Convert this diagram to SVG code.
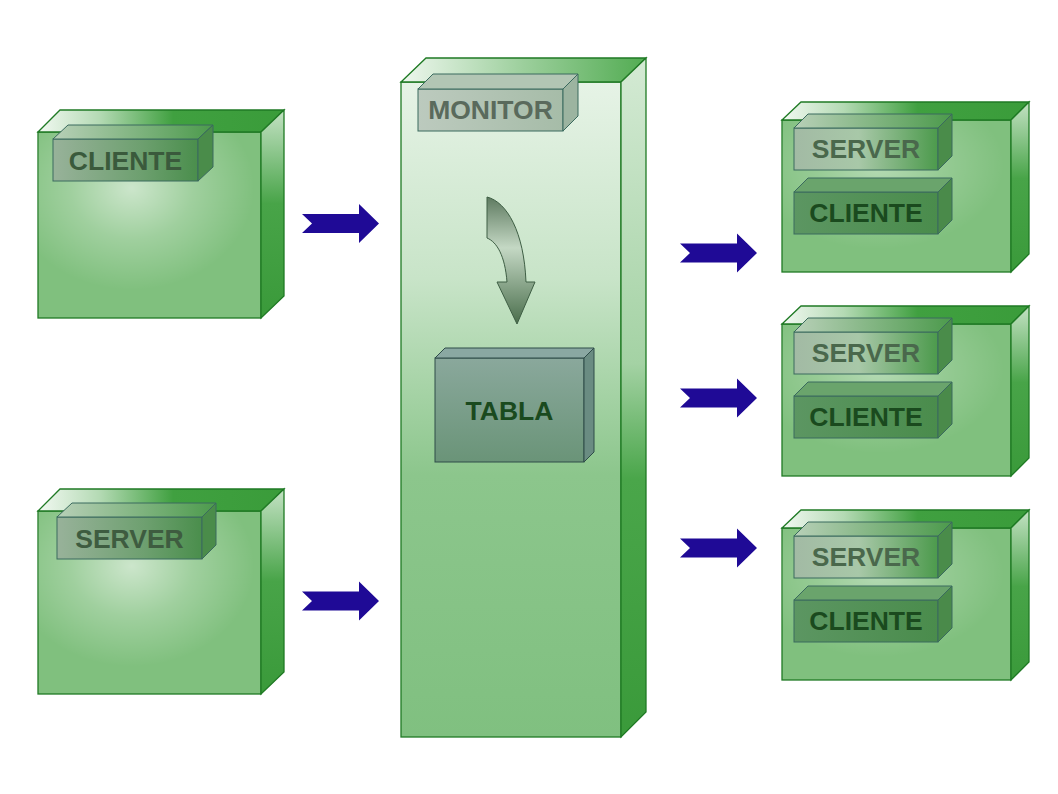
<svg xmlns="http://www.w3.org/2000/svg" xmlns:xlink="http://www.w3.org/1999/xlink" width="1058" height="794" viewBox="0 0 1058 794">
<style>
.bx{stroke:#1f7a24;stroke-width:1.3}
.lb{stroke:#3a6a5e;stroke-width:1}
.t{font-family:"Liberation Sans",Arial,sans-serif;font-weight:bold;font-size:26.5px;text-anchor:middle}
.arr{fill:#1f0a96}
</style>
<defs>
<linearGradient id="gTop" x1="0" y1="0" x2="1" y2="0">
<stop offset="0" stop-color="#f2f9f2"/><stop offset="0.25" stop-color="#b4dab4"/><stop offset="0.55" stop-color="#40a040"/><stop offset="1" stop-color="#3a9c3a"/>
</linearGradient>
<linearGradient id="gRight" x1="0" y1="0" x2="0" y2="1">
<stop offset="0" stop-color="#c4e2c4"/><stop offset="0.45" stop-color="#48a448"/><stop offset="1" stop-color="#3a9a3a"/>
</linearGradient>
<radialGradient id="gGlow" cx="0.42" cy="0.3" r="0.55">
<stop offset="0" stop-color="#ffffff" stop-opacity="0.6"/><stop offset="0.5" stop-color="#ffffff" stop-opacity="0.25"/><stop offset="1" stop-color="#ffffff" stop-opacity="0"/>
</radialGradient>
<linearGradient id="gMonFront" x1="0" y1="0" x2="0" y2="1">
<stop offset="0" stop-color="#e6f3e6"/><stop offset="0.3" stop-color="#c8e4c8"/><stop offset="0.6" stop-color="#8cc68c"/><stop offset="1" stop-color="#80c080"/>
</linearGradient>
<linearGradient id="gMonRight" x1="0" y1="0" x2="0" y2="1">
<stop offset="0" stop-color="#d4ead4"/><stop offset="0.45" stop-color="#a4d2a4"/><stop offset="0.62" stop-color="#4aa64a"/><stop offset="1" stop-color="#3a9a3a"/>
</linearGradient>
<linearGradient id="gMonTop" x1="0" y1="0" x2="1" y2="0">
<stop offset="0" stop-color="#eef7ee"/><stop offset="0.5" stop-color="#9ccf9c"/><stop offset="1" stop-color="#52ac52"/>
</linearGradient>
<linearGradient id="gLabDark" x1="0" y1="0" x2="1" y2="0">
<stop offset="0" stop-color="#98b29a"/><stop offset="0.6" stop-color="#6ea070"/><stop offset="1" stop-color="#4a8e4c"/>
</linearGradient>
<linearGradient id="gLabLight" x1="0" y1="0" x2="1" y2="0">
<stop offset="0" stop-color="#a2baa4"/><stop offset="0.45" stop-color="#a8c8a8"/><stop offset="1" stop-color="#4c9a4c"/>
</linearGradient>
<linearGradient id="gLabGreen" x1="0" y1="0" x2="1" y2="0">
<stop offset="0" stop-color="#5c9662"/><stop offset="1" stop-color="#4a8c4c"/>
</linearGradient>
<linearGradient id="gLabTop" x1="0" y1="0" x2="1" y2="0">
<stop offset="0" stop-color="#b8d0b8"/><stop offset="1" stop-color="#4c9a4c"/>
</linearGradient>
<linearGradient id="gMonLab" x1="0" y1="0" x2="1" y2="0">
<stop offset="0" stop-color="#bccabe"/><stop offset="1" stop-color="#a6bca8"/>
</linearGradient>
<linearGradient id="gTabla" x1="0" y1="0" x2="0" y2="1">
<stop offset="0" stop-color="#8aa89c"/><stop offset="1" stop-color="#6a9478"/>
</linearGradient>
<linearGradient id="gCurve" x1="0" y1="0" x2="0" y2="1">
<stop offset="0" stop-color="#5e7a60"/><stop offset="0.4" stop-color="#c4d8c4"/><stop offset="1" stop-color="#4a6e4c"/>
</linearGradient>
<path id="arrow" d="M0,-9.5 L57,-9.5 L57,-19.5 L77,0 L57,19.5 L57,9.5 L0,9.5 L10,0 Z"/>
</defs>
<rect width="1058" height="794" fill="#ffffff"/>

<g id="cliente-left">
<rect class="bx" x="38" y="132" width="223" height="186" fill="#80c07e"/>
<rect x="38" y="132" width="223" height="186" fill="url(#gGlow)"/>
<polygon class="bx" points="38,132 60,110 284,110 261,132" fill="url(#gTop)"/>
<polygon class="bx" points="261,132 284,110 284,296 261,318" fill="url(#gRight)"/>
<g id="label-cliente-left">
<rect class="lb" x="53" y="139" width="145" height="42" fill="url(#gLabDark)"/>
<polygon class="lb" points="53,139 68,125 213,125 198,139" fill="url(#gLabTop)"/>
<polygon class="lb" points="198,139 213,125 213,167 198,181" fill="#4a8c4a"/>
<text class="t" x="125.5" y="170" fill="#3a5a3c">CLIENTE</text>
</g>
</g>

<g id="server-left">
<rect class="bx" x="38" y="511" width="223" height="183" fill="#80c07e"/>
<rect x="38" y="511" width="223" height="183" fill="url(#gGlow)"/>
<polygon class="bx" points="38,511 60,489 284,489 261,511" fill="url(#gTop)"/>
<polygon class="bx" points="261,511 284,489 284,672 261,694" fill="url(#gRight)"/>
<g id="label-server-left">
<rect class="lb" x="57" y="517" width="145" height="42" fill="url(#gLabDark)"/>
<polygon class="lb" points="57,517 72,503 216,503 202,517" fill="url(#gLabTop)"/>
<polygon class="lb" points="202,517 216,503 216,545 202,559" fill="#4a8c4a"/>
<text class="t" x="129.5" y="548" fill="#3e5c40">SERVER</text>
</g>
</g>

<g id="monitor">
<rect class="bx" x="401" y="82" width="220" height="655" fill="url(#gMonFront)"/>
<polygon class="bx" points="401,82 426,58 646,58 621,82" fill="url(#gMonTop)"/>
<polygon class="bx" points="621,82 646,58 646,712 621,737" fill="url(#gMonRight)"/>
<g id="label-monitor">
<rect class="lb" x="418" y="89" width="145" height="42" fill="url(#gMonLab)"/>
<polygon class="lb" points="418,89 433,74 578,74 563,89" fill="#b2c6b4"/>
<polygon class="lb" points="563,89 578,74 578,116 563,131" fill="#9cb4a0"/>
<text class="t" x="490.5" y="119" fill="#5a6a5c">MONITOR</text>
</g>
<path id="curved-arrow" d="M487,197 C507,202 524,232 526,282 L535,282 L517,324 L497,282 L507,282 C505,256 497,242 487,238 Z" fill="url(#gCurve)" stroke="#3e5e44" stroke-width="1"/>
<g id="tabla">
<rect x="435" y="358" width="149" height="104" fill="url(#gTabla)" stroke="#2e4c48" stroke-width="1"/>
<polygon points="435,358 445,348 594,348 584,358" fill="#8aa8a2" stroke="#2e4c48" stroke-width="1"/>
<polygon points="584,358 594,348 594,452 584,462" fill="#6a8c82" stroke="#2e4c48" stroke-width="1"/>
<text class="t" x="509.5" y="420" fill="#1a4a1e">TABLA</text>
</g>
</g>

<g id="node-right-1">
<rect class="bx" x="782" y="120" width="229" height="152" fill="#80c07e"/>
<rect x="782" y="120" width="229" height="152" fill="url(#gGlow)" opacity="0.7"/>
<polygon class="bx" points="782,120 801,102 1029,102 1011,120" fill="url(#gTop)"/>
<polygon class="bx" points="1011,120 1029,102 1029,254 1011,272" fill="url(#gRight)"/>
<rect class="lb" x="794" y="128" width="144" height="42" fill="url(#gLabLight)"/>
<polygon class="lb" points="794,128 808,114 952,114 938,128" fill="url(#gLabTop)"/>
<polygon class="lb" points="938,128 952,114 952,156 938,170" fill="#4a8c4a"/>
<text class="t" x="866" y="158" fill="#4a684c">SERVER</text>
<rect class="lb" x="794" y="192" width="144" height="42" fill="url(#gLabGreen)"/>
<polygon class="lb" points="794,192 808,178 952,178 938,192" fill="#6aa46c"/>
<polygon class="lb" points="938,192 952,178 952,220 938,234" fill="#4a8a4a"/>
<text class="t" x="866" y="222" fill="#1a4a1e">CLIENTE</text>
</g>

<g id="node-right-2" transform="translate(0,204)">
<rect class="bx" x="782" y="120" width="229" height="152" fill="#80c07e"/>
<rect x="782" y="120" width="229" height="152" fill="url(#gGlow)" opacity="0.7"/>
<polygon class="bx" points="782,120 801,102 1029,102 1011,120" fill="url(#gTop)"/>
<polygon class="bx" points="1011,120 1029,102 1029,254 1011,272" fill="url(#gRight)"/>
<rect class="lb" x="794" y="128" width="144" height="42" fill="url(#gLabLight)"/>
<polygon class="lb" points="794,128 808,114 952,114 938,128" fill="url(#gLabTop)"/>
<polygon class="lb" points="938,128 952,114 952,156 938,170" fill="#4a8c4a"/>
<text class="t" x="866" y="158" fill="#4a684c">SERVER</text>
<rect class="lb" x="794" y="192" width="144" height="42" fill="url(#gLabGreen)"/>
<polygon class="lb" points="794,192 808,178 952,178 938,192" fill="#6aa46c"/>
<polygon class="lb" points="938,192 952,178 952,220 938,234" fill="#4a8a4a"/>
<text class="t" x="866" y="222" fill="#1a4a1e">CLIENTE</text>
</g>

<g id="node-right-3" transform="translate(0,408)">
<rect class="bx" x="782" y="120" width="229" height="152" fill="#80c07e"/>
<rect x="782" y="120" width="229" height="152" fill="url(#gGlow)" opacity="0.7"/>
<polygon class="bx" points="782,120 801,102 1029,102 1011,120" fill="url(#gTop)"/>
<polygon class="bx" points="1011,120 1029,102 1029,254 1011,272" fill="url(#gRight)"/>
<rect class="lb" x="794" y="128" width="144" height="42" fill="url(#gLabLight)"/>
<polygon class="lb" points="794,128 808,114 952,114 938,128" fill="url(#gLabTop)"/>
<polygon class="lb" points="938,128 952,114 952,156 938,170" fill="#4a8c4a"/>
<text class="t" x="866" y="158" fill="#4a684c">SERVER</text>
<rect class="lb" x="794" y="192" width="144" height="42" fill="url(#gLabGreen)"/>
<polygon class="lb" points="794,192 808,178 952,178 938,192" fill="#6aa46c"/>
<polygon class="lb" points="938,192 952,178 952,220 938,234" fill="#4a8a4a"/>
<text class="t" x="866" y="222" fill="#1a4a1e">CLIENTE</text>
</g>

<g id="connectors" class="arr">
<use xlink:href="#arrow" transform="translate(302,223.5)"/>
<use xlink:href="#arrow" transform="translate(302,601)"/>
<use xlink:href="#arrow" transform="translate(680,253)"/>
<use xlink:href="#arrow" transform="translate(680,398)"/>
<use xlink:href="#arrow" transform="translate(680,548)"/>
</g>
</svg>
